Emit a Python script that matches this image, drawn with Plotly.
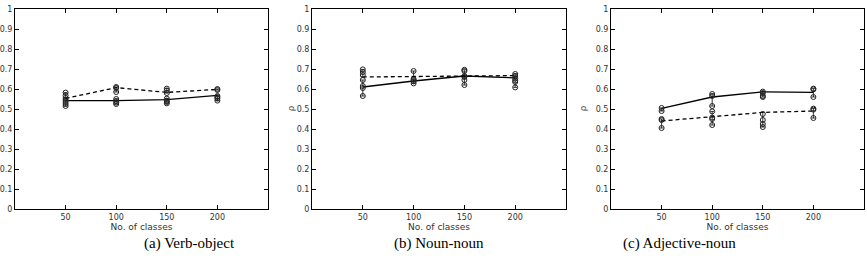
import plotly.graph_objects as go

classes = [50, 100, 150, 200]
y_ticks = [0, 0.1, 0.2, 0.3, 0.4, 0.5, 0.6, 0.7, 0.8, 0.9, 1]
y_tick_labels = ["0", "0.1", "0.2", "0.3", "0.4", "0.5", "0.6", "0.7", "0.8", "0.9", "1"]
captions = ["(a) Verb-object", "(b) Noun-noun", "(c) Adjective-noun"]

# Mean lines (solid / dashed)
vo_solid = [0.542, 0.542, 0.547, 0.568]
vo_dashed = [0.553, 0.607, 0.583, 0.598]
nn_solid = [0.61, 0.64, 0.665, 0.656]
nn_dashed = [0.66, 0.663, 0.665, 0.667]
an_solid = [0.503, 0.56, 0.586, 0.583]
an_dashed = [0.44, 0.46, 0.483, 0.49]

# Individual runs (circles), per class
vo_solid_runs = [[0.515, 0.525, 0.535, 0.545], [0.525, 0.532, 0.54, 0.55],
                 [0.528, 0.535, 0.542, 0.552], [0.542, 0.552, 0.56, 0.565]]
vo_dashed_runs = [[0.555, 0.568, 0.582], [0.585, 0.605, 0.61],
                  [0.58, 0.593, 0.602], [0.595, 0.6]]
nn_solid_runs = [[0.565, 0.605, 0.615, 0.645], [0.628, 0.638, 0.645, 0.65],
                 [0.62, 0.645, 0.66, 0.665], [0.608, 0.635, 0.642, 0.652]]
nn_dashed_runs = [[0.67, 0.685, 0.698], [0.69], [0.69, 0.696], [0.665, 0.675]]
an_solid_runs = [[0.49, 0.505], [0.515, 0.565, 0.575], [0.56, 0.565, 0.58, 0.587],
                 [0.56, 0.598, 0.602]]
an_dashed_runs = [[0.405, 0.445, 0.45], [0.42, 0.45, 0.457, 0.488],
                  [0.41, 0.425, 0.445, 0.475], [0.455, 0.497, 0.502]]

panels = [
    (vo_solid, vo_dashed, vo_solid_runs, vo_dashed_runs),
    (nn_solid, nn_dashed, nn_solid_runs, nn_dashed_runs),
    (an_solid, an_dashed, an_solid_runs, an_dashed_runs),
]

W, H = 867, 258
x_domains = [(15 / W, 268 / W), (312 / W, 566 / W), (611 / W, 864 / W)]
y_domain = (49 / H, 249 / H)

fig = go.Figure()
for i, (solid, dashed, s_runs, d_runs) in enumerate(panels):
    xa = "x" if i == 0 else f"x{i+1}"
    ya = "y" if i == 0 else f"y{i+1}"
    for mean, runs, dash in [(solid, s_runs, "solid"), (dashed, d_runs, "4px,3px")]:
        up = [max(max(r), m) - m for r, m in zip(runs, mean)]
        dn = [m - min(min(r), m) for r, m in zip(runs, mean)]
        fig.add_trace(go.Scatter(
            x=classes, y=mean, mode="lines", xaxis=xa, yaxis=ya,
            line=dict(color="black", width=1.3, dash=dash),
            error_y=dict(type="data", symmetric=False, array=up, arrayminus=dn,
                         color="#222", thickness=0.9, width=2),
            showlegend=False, hoverinfo="skip"))
        xs, ys = [], []
        for c, r in zip(classes, runs):
            for v in r:
                xs.append(c)
                ys.append(v)
        fig.add_trace(go.Scatter(
            x=xs, y=ys, mode="markers", xaxis=xa, yaxis=ya,
            marker=dict(symbol="circle-open", size=5, color="#222", line=dict(width=1)),
            showlegend=False))

layout = dict(
    width=W, height=H, margin=dict(l=0, r=0, t=0, b=0, autoexpand=False),
    paper_bgcolor="white", plot_bgcolor="white",
    font=dict(family="DejaVu Sans", size=8, color="#333"),
)
for i in range(3):
    xk = "xaxis" if i == 0 else f"xaxis{i+1}"
    yk = "yaxis" if i == 0 else f"yaxis{i+1}"
    layout[xk] = dict(
        domain=list(x_domains[i]), anchor="y" if i == 0 else f"y{i+1}",
        range=[0, 250], tickvals=classes, ticktext=[str(c) for c in classes],
        ticks="inside", ticklen=4, tickcolor="black", showline=True, linecolor="black",
        linewidth=1, mirror="ticks", showgrid=False, zeroline=False, automargin=False,
        tickfont=dict(size=8, color="#333"),
        title=dict(text="No. of classes", font=dict(size=9, color="#333"), standoff=2),
    )
    layout[yk] = dict(
        domain=list(y_domain), anchor="x" if i == 0 else f"x{i+1}",
        range=[0, 1], tickvals=y_ticks, ticktext=y_tick_labels,
        ticks="inside", ticklen=4, tickcolor="black", showline=True, linecolor="black",
        linewidth=1, mirror="ticks", showgrid=False, zeroline=False, automargin=False,
        tickfont=dict(size=8, color="#333"),
    )
fig.update_layout(**layout)

for i in (1, 2):
    fig.add_annotation(text="ρ", x=(x_domains[i][0] * W - 21) / W, y=(H - 109) / H,
                       xref="paper", yref="paper", showarrow=False, textangle=-90,
                       font=dict(family="DejaVu Serif", size=9, color="#333"))

for i, cap in enumerate(captions):
    cx = (x_domains[i][0] + x_domains[i][1]) / 2
    fig.add_annotation(text=cap, x=cx, y=(H - 243) / H, xref="paper", yref="paper",
                       showarrow=False, yanchor="middle",
                       font=dict(family="Liberation Serif", size=15, color="black"))

fig.write_html("out.html")
